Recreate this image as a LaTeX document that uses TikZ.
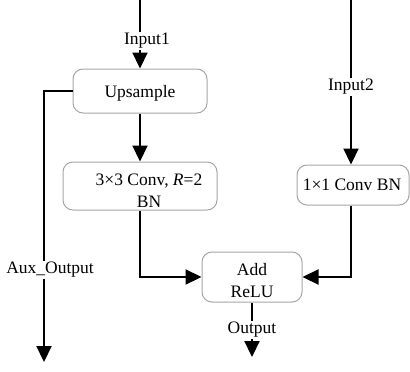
\documentclass[tikz,border=0pt]{standalone}
\usepackage{fontspec}
\setmainfont{Liberation Serif}
\usetikzlibrary{arrows.meta}
\begin{document}
\begin{tikzpicture}[x=1pt,y=-1pt,
  blk/.style={draw=gray!70,line width=1pt,rounded corners=10pt,fill=white,inner sep=0pt},
  txt/.style={font=\fontsize{17.5}{22}\selectfont,align=center,inner sep=1pt},
  lbl/.style={txt,fill=white},
  flow/.style={line width=2.2pt,-{Triangle[width=15pt,length=16pt]}}]
  \useasboundingbox (0,0) rectangle (410,372);
  \coordinate (in1) at (140,0);
  \coordinate (in2) at (351,0);
  \coordinate (auxend) at (44,362);
  \coordinate (outend) at (252,357);
  % blocks
  \node[blk,minimum width=134pt,minimum height=44pt] (up) at (140,91) {};
  \node[txt] (uptxt) at ([shift={(0,2)}]up.center) {Upsample};
  \node[blk,minimum width=154pt,minimum height=48pt] (conv) at (140,186) {};
  \node[txt] (convtxt) at ([shift={(9,5)}]conv.center) {3×3 Conv, \textit{R}=2\\BN};
  \node[blk,minimum width=112pt,minimum height=40pt] (cbn) at (353,185) {};
  \node[txt] (cbntxt) at ([shift={(-1,0)}]cbn.center) {1×1 Conv BN};
  \node[blk,minimum width=100pt,minimum height=50pt] (add) at (252,277) {};
  \node[txt] (addtxt) at ([shift={(0,4)}]add.center) {Add\\ReLU};
  % connectors
  \draw[flow] (in1) -- (up.north);
  \draw[flow] (up.south) -- (conv.north);
  \draw[flow] (up.west) -| (auxend);
  \draw[flow] (in2) -- (in2 |- cbn.north);
  \draw[flow] (conv.south) |- (add.west);
  \draw[flow] (cbn.south -| in2) |- (add.east);
  \draw[flow] (add.south) -- (outend);
  % labels on the lines
  \node[lbl] (in1lbl) at (147,41) {Input1};
  \node[lbl] (in2lbl) at (351,87) {Input2};
  \node[lbl] (auxlbl) at (50,270) {Aux\_Output};
  \node[lbl] (outlbl) at (252,330) {Output};
\end{tikzpicture}
\end{document}
